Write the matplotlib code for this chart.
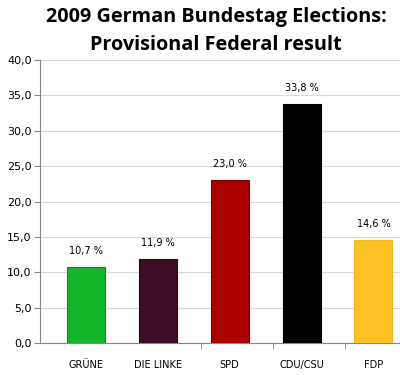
import matplotlib

matplotlib.use("Agg")
import matplotlib.pyplot as plt
import numpy as np

parties = ["GRÜNE", "DIE LINKE", "SPD", "CDU/CSU", "FDP"]
shares = [10.7, 11.9, 23.0, 33.8, 14.6]
colors = ["#13B52B", "#3D0D26", "#AA0000", "#000000", "#FDC125"]
edges = ["#0E8A20", "#2A0819", "#7A0000", "#000000", "#F0B820"]
yticks = [0, 5, 10, 15, 20, 25, 30, 35, 40]


def fmt(v):
    return f"{v:.1f}".replace(".", ",")


fig = plt.figure(figsize=(4.0, 3.75), dpi=100)
ax = fig.add_axes([0.1, 0.085, 0.9, 0.755])

x = np.arange(len(parties))
ax.bar(x, shares, width=0.53, color=colors, edgecolor=edges, linewidth=0.8, zorder=3)
for xi, v in zip(x, shares):
    ax.annotate(f"{fmt(v)} %", (xi, v), xytext=(0, 8), textcoords="offset points",
                ha="center", va="bottom", fontsize=7, family="DejaVu Sans")

ax.set_xlim(-0.64, 4.37)
ax.set_ylim(0, 40)
ax.set_yticks(yticks, labels=[fmt(t) for t in yticks], fontsize=8)
ax.set_xticks(x, labels=parties, fontsize=7)
ax.set_xticks([1.6, 2.6, 3.6], minor=True)
ax.tick_params(axis="x", which="major", length=0, pad=12)
ax.tick_params(axis="x", which="minor", length=4, color="#868686")
ax.tick_params(axis="y", length=4, color="#868686", pad=2)
ax.grid(axis="y", color="#D9D9D9", linewidth=0.8, zorder=0)
for side in ["top", "right"]:
    ax.spines[side].set_visible(False)
for side in ["left", "bottom"]:
    ax.spines[side].set_color("#868686")

fig.text(0.54, 0.955, "2009 German Bundestag Elections:", ha="center", va="center",
         fontsize=14.3, fontweight="bold", family="Open Sans")
fig.text(0.54, 0.88, "Provisional Federal result", ha="center", va="center",
         fontsize=14.3, fontweight="bold", family="Open Sans")

fig.savefig("out.png", dpi=100)
